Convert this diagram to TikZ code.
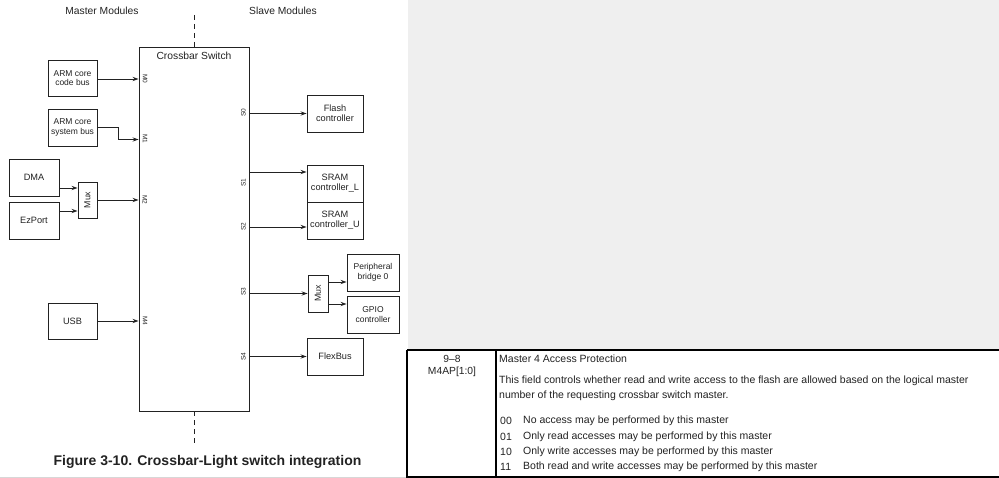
\documentclass[tikz,border=0pt]{standalone}
\usepackage{fontspec}
\setmainfont{Liberation Sans}
\usetikzlibrary{arrows.meta}
\definecolor{ink}{HTML}{222222}
\definecolor{pagegray}{HTML}{EFEFEF}
\newcommand{\fsz}[1]{\fontsize{#1}{#1}\selectfont}
\begin{document}
\begin{tikzpicture}[x=1pt,y=-1pt,
  box/.style={draw=ink,line width=0.9pt,inner sep=0pt,align=center,text=ink},
  smallbox/.style={box,font=\fsz{8.5}},
  midbox/.style={box,font=\fsz{9.2}},
  arr/.style={draw=ink,line width=0.9pt,-{Stealth[length=6pt,width=4.2pt]}},
  wire/.style={draw=ink,line width=0.9pt},
  portL/.style={font=\fsz{6.5},text=ink,rotate=-90,inner sep=0pt},
  portR/.style={font=\fsz{6.5},text=ink,rotate=90,inner sep=0pt},
  hdr/.style={font=\fsz{10.3},text=ink,inner sep=0pt},
  tbl/.style={font=\fsz{10.5},text=ink,inner sep=0pt,anchor=west},
  dashline/.style={draw=ink,line width=0.9pt,dash pattern=on 5pt off 4pt}]
\useasboundingbox (0,0) rectangle (999,478);
% right side page background
\fill[pagegray] (408,0) rectangle (999,349);
\draw[pagegray!90!black,line width=0.6pt] (0,477.5) -- (407,477.5);

% headers
\node[hdr] (mm) at (102,11) {Master Modules};
\node[hdr] (sm) at (283,11) {Slave Modules};

% crossbar
\node[box,minimum width=110pt,minimum height=364pt] (xbar) at (194,229) {};
\node[hdr] (xbt) at (194,56) {Crossbar Switch};
\coordinate (dtop) at (194,15);
\coordinate (dbot) at (194,445);
\draw[dashline] (dtop) -- (xbar.north);
\draw[dashline] (xbar.south) -- (dbot);

% masters
\node[smallbox,minimum width=49pt,minimum height=36pt] (code) at (72.5,78) {ARM core\\[1pt]code bus};
\node[smallbox,minimum width=49pt,minimum height=37pt] (sys) at (72.5,127.5) {ARM core\\[1pt]system bus};
\node[midbox,minimum width=50pt,minimum height=37pt] (dma) at (34,177.5) {DMA};
\node[midbox,minimum width=50pt,minimum height=37pt] (ezp) at (34,220.5) {EzPort};
\node[box,minimum width=19pt,minimum height=36pt] (muxl) at (87.5,200) {};
\node[font=\fsz{8.8},text=ink,rotate=90,inner sep=0pt] (muxlt) at (muxl.center) {Mux};
\node[midbox,minimum width=49pt,minimum height=36pt] (usb) at (72.5,321) {USB};

% slaves
\node[midbox,minimum width=56pt,minimum height=37pt] (flash) at (335,113.5) {Flash\\[1pt]controller};
\node[midbox,minimum width=56pt,minimum height=37pt] (sraml) at (335,183.5) {SRAM\\[1pt]controller\_L};
\node[midbox,minimum width=56pt,minimum height=37pt] (sramu) at (335,220.5) {SRAM\\[1pt]controller\_U};
\node[box,minimum width=20pt,minimum height=37pt] (muxr) at (318,293.5) {};
\node[font=\fsz{8.8},text=ink,rotate=90,inner sep=0pt] (muxrt) at (muxr.center) {Mux};
\node[smallbox,minimum width=52pt,minimum height=37pt] (pb) at (373,272.5) {Peripheral\\[1pt]bridge 0};
\node[smallbox,minimum width=52pt,minimum height=37pt] (gpio) at (373,314.5) {GPIO\\[1pt]controller};
\node[midbox,minimum width=56pt,minimum height=37pt] (fb) at (335,356.5) {FlexBus};

% port labels
\node[portL] (m0) at (145,79) {M0};
\node[portL] (m1) at (145,139) {M1};
\node[portL] (m2) at (145,200) {M2};
\node[portL] (m4) at (145,321) {M4};
\node[portR] (s0) at (243.5,113) {S0};
\node[portR] (s1) at (243.5,183) {S1};
\node[portR] (s2) at (243.5,227) {S2};
\node[portR] (s3) at (243.5,292) {S3};
\node[portR] (s4) at (243.5,357) {S4};

% master connections
\coordinate (c0) at ([yshift=-1pt]code.east);
\draw[arr] (c0) -- (c0 -| xbar.west);
\coordinate (c1) at ([xshift=21pt]sys.east);
\coordinate (c1b) at ([xshift=21pt,yshift=-12pt]sys.east);
\draw[arr] (sys.east) -- (c1) -- (c1b) -- (c1b -| xbar.west);
\coordinate (cd) at ([yshift=-10.5pt]dma.east);
\draw[arr] (cd) -- (cd -| muxl.west);
\coordinate (ce) at ([yshift=9.5pt]ezp.east);
\draw[arr] (ce) -- (ce -| muxl.west);
\draw[arr] (muxl.east) -- (muxl.east -| xbar.west);
\draw[arr] (usb.east) -- (usb.east -| xbar.west);

% slave connections
\draw[arr] (flash.west -| xbar.east) -- (flash.west);
\coordinate (cs1) at ([yshift=11.5pt]sraml.west);
\draw[arr] (cs1 -| xbar.east) -- (cs1);
\coordinate (cs2) at ([yshift=-6.5pt]sramu.west);
\draw[arr] (cs2 -| xbar.east) -- (cs2);
\draw[arr] (muxr.west -| xbar.east) -- (muxr.west);
\coordinate (cm1) at ([yshift=11.5pt]muxr.east);
\draw[arr] (cm1) -- (cm1 -| pb.west);
\coordinate (cm2) at ([yshift=-10.5pt]muxr.east);
\draw[arr] (cm2) -- (cm2 -| gpio.west);
\draw[arr] (fb.west -| xbar.east) -- (fb.west);

% caption
\node[font=\bfseries\fsz{14},text=ink,inner sep=0pt] (cap) at (207.5,462) {Figure 3-10. Crossbar-Light switch integration};

% table
\fill[white] (407,350) rectangle (999,477);
\draw[black,line width=1.4pt] (407,350) -- (999.5,350);
\draw[black,line width=1.2pt] (407,350) -- (407,477) -- (999.5,477);
\draw[black,line width=1.4pt] (496,350) -- (496,477);
\node[hdr] (t1) at (452,358.5) {9–8};
\node[hdr] (t2) at (452,371.5) {M4AP[1:0]};
\node[tbl] (t3) at (499,358.5) {Master 4 Access Protection};
\node[tbl] (t4) at (499,380.5) {This field controls whether read and write access to the flash are allowed based on the logical master};
\node[tbl] (t5) at (499,395.5) {number of the requesting crossbar switch master.};
\node[tbl] (a0) at (500,421) {00};
\node[tbl] (a1) at (500,436.5) {01};
\node[tbl] (a2) at (500,452) {10};
\node[tbl] (a3) at (500,467) {11};
\node[tbl] (b0) at (523,421) {No access may be performed by this master};
\node[tbl] (b1) at (523,436.5) {Only read accesses may be performed by this master};
\node[tbl] (b2) at (523,452) {Only write accesses may be performed by this master};
\node[tbl] (b3) at (523,467) {Both read and write accesses may be performed by this master};
\end{tikzpicture}
\end{document}
